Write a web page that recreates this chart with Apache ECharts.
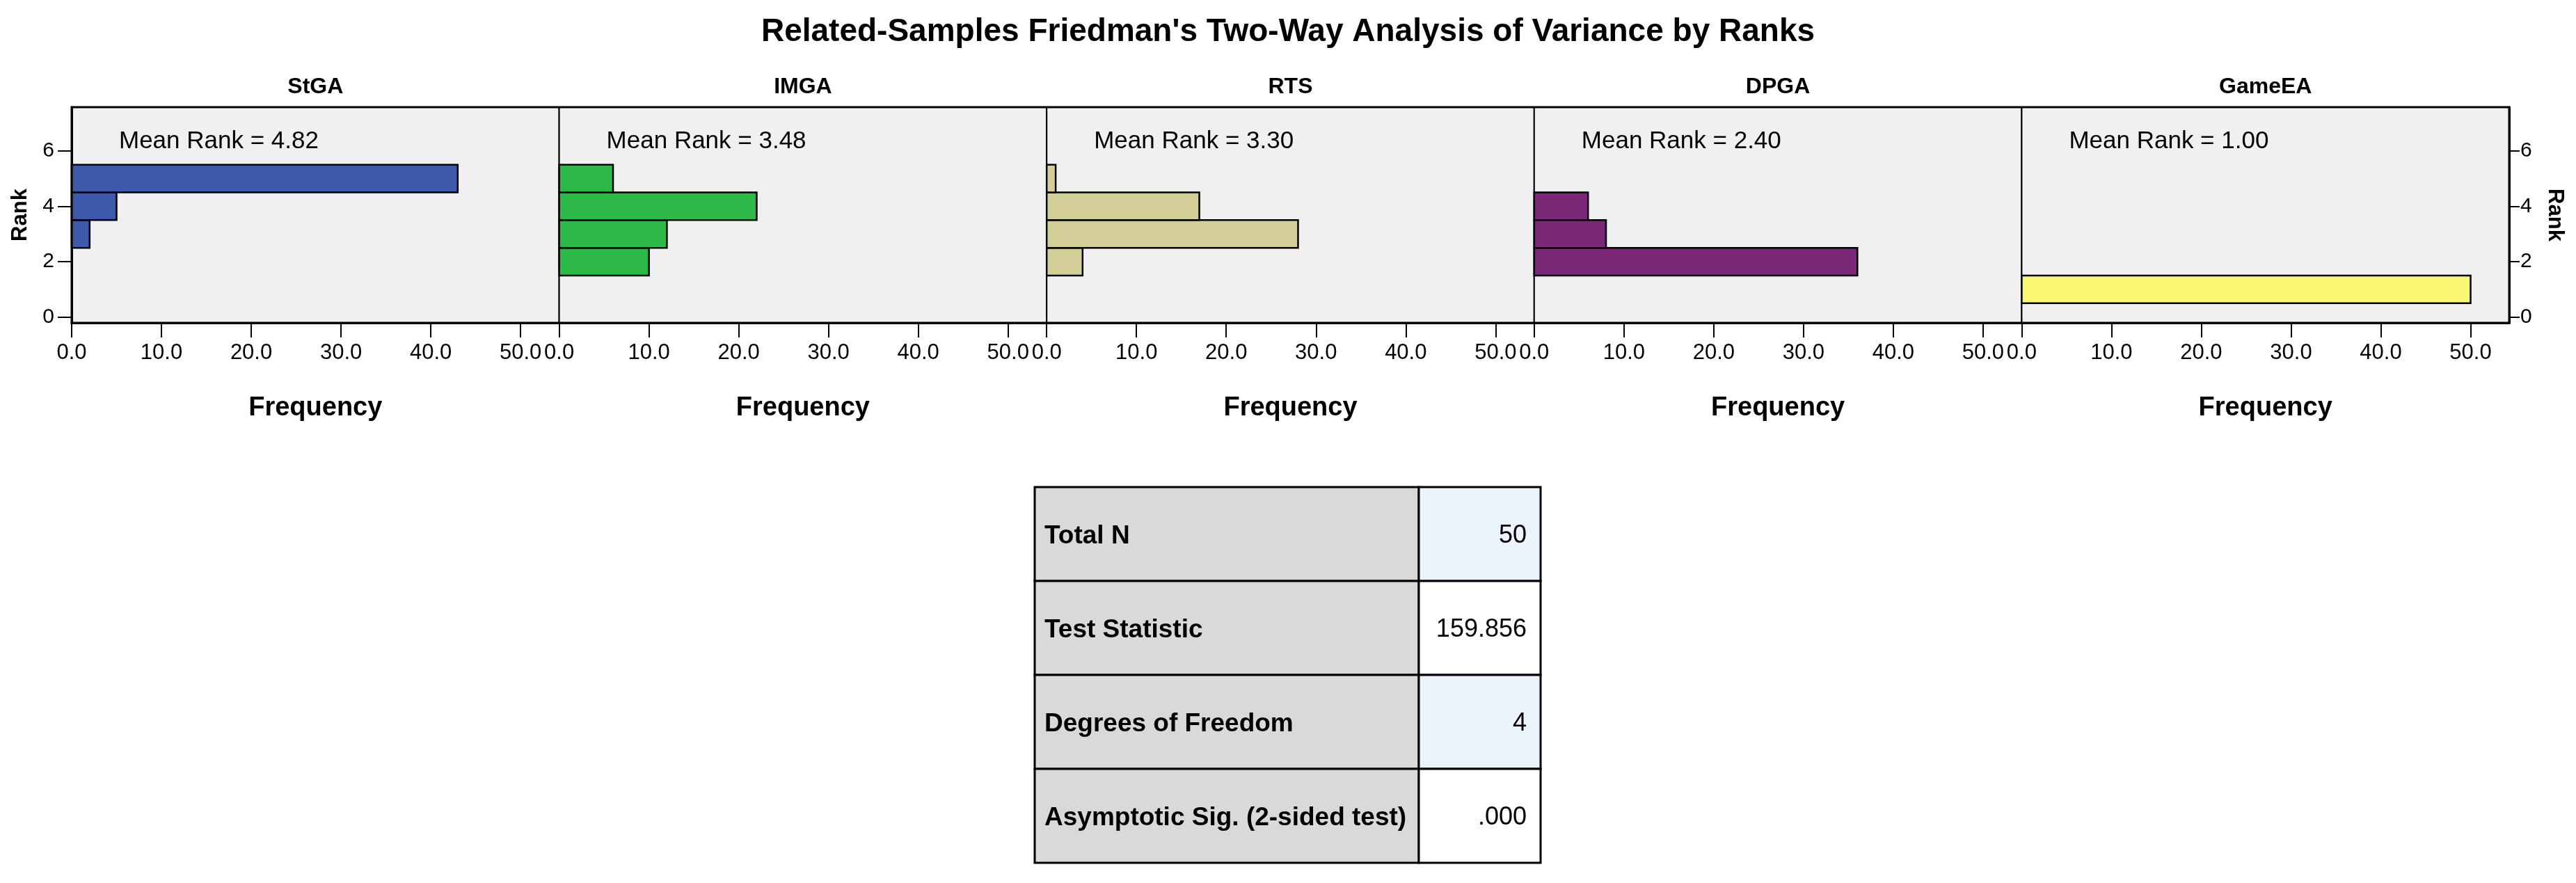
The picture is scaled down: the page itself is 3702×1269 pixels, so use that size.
<!DOCTYPE html>
<html>
<head>
<meta charset="utf-8">
<script src="https://cdn.jsdelivr.net/npm/echarts@6/dist/echarts.min.js"></script>
<style>
  html, body { margin: 0; padding: 0; background: #fff; }
  #main { width: 3702px; height: 1269px; }
</style>
</head>
<body>
<div id="main"></div>
<script>
var myChart = echarts.init(document.getElementById('main'));

// data
var panels = ['StGA', 'IMGA', 'RTS', 'DPGA', 'GameEA'];
var colors = ['#3E58AC', '#2EB848', '#D4CF98', '#7C2878', '#FAF773'];
var ranks = [1, 2, 3, 4, 5];
// frequency per rank 1..5
var stgaFreq = [0, 0, 2, 5, 43];
var imgaFreq = [0, 10, 12, 22, 6];
var rtsFreq = [0, 4, 28, 17, 1];
var dpgaFreq = [0, 36, 8, 6, 0];
var gameeaFreq = [50, 0, 0, 0, 0];
var meanRanks = ['4.82', '3.48', '3.30', '2.40', '1.00'];
var xTicks = [0, 10, 20, 30, 40, 50];
var yTicks = [0, 2, 4, 6];
var tableLabels = ['Total N', 'Test Statistic', 'Degrees of Freedom', 'Asymptotic Sig. (2-sided test)'];
var tableValues = ['50', '159.856', '4', '.000'];

var freqs = [stgaFreq, imgaFreq, rtsFreq, dpgaFreq, gameeaFreq];

var FONT = 'Arial, "Liberation Sans", sans-serif';
var gridLeft = 103, gridW = 700.6, gridTop = 154, gridH = 310;

var grids = [], xAxes = [], yAxes = [], series = [], graphics = [];

panels.forEach(function (name, i) {
    var left = gridLeft + i * gridW;
    grids.push({
        left: left, top: gridTop, width: gridW, height: gridH,
        show: true, backgroundColor: '#F0F0F0', borderColor: '#000', borderWidth: 2,
        outerBoundsMode: 'none'
    });
    xAxes.push({
        type: 'value', gridIndex: i, min: 0, max: 54.3,
        name: 'Frequency', nameLocation: 'middle', nameGap: 104,
        nameTextStyle: { fontFamily: FONT, fontWeight: 'bold', fontSize: 38, color: '#000' },
        splitLine: { show: false },
        axisLine: { show: true, onZero: false, lineStyle: { color: '#000', width: 3 } },
        axisTick: { show: true, length: 21, customValues: xTicks, lineStyle: { color: '#000', width: 2 } },
        axisLabel: {
            customValues: xTicks, margin: 28, fontFamily: FONT, fontSize: 31, color: '#000',
            formatter: function (v) { return v.toFixed(1); }
        }
    });
    var first = i === 0, last = i === panels.length - 1;
    yAxes.push({
        type: 'value', gridIndex: i, min: -0.21, max: 7.58,
        position: last ? 'right' : 'left',
        name: (first || last) ? 'Rank' : '',
        nameLocation: 'middle', nameRotate: last ? -90 : 90, nameGap: last ? 50 : 58,
        nameTextStyle: { fontFamily: FONT, fontWeight: 'bold', fontSize: 31, color: '#000' },
        splitLine: { show: false },
        axisLine: { show: first || last, onZero: false, lineStyle: { color: '#000', width: 3 } },
        axisTick: { show: first || last, length: first ? 20 : 15, customValues: yTicks, lineStyle: { color: '#000', width: 2 } },
        axisLabel: {
            show: first || last, customValues: yTicks, margin: first ? 25 : 16,
            fontFamily: FONT, fontSize: 30, color: '#000'
        }
    });
    var data = ranks.map(function (r, k) { return [freqs[i][k], r]; });
    series.push({
        type: 'custom', xAxisIndex: i, yAxisIndex: i, data: data,
        encode: { x: 0, y: 1 },
        renderItem: function (params, api) {
            var f = api.value(0), r = api.value(1);
            if (!f) return;
            var a = api.coord([0, r + 0.5]);
            var b = api.coord([f, r - 0.5]);
            return {
                type: 'rect',
                shape: { x: a[0], y: a[1], width: b[0] - a[0], height: b[1] - a[1] },
                style: { fill: colors[i], stroke: '#000', lineWidth: 2.5 }
            };
        }
    });
    // panel title
    graphics.push({
        type: 'text', x: left + gridW / 2, y: 125,
        style: { text: name, fontFamily: FONT, fontWeight: 'bold', fontSize: 32, fill: '#000', align: 'center', verticalAlign: 'middle' }
    });
    // mean rank label
    graphics.push({
        type: 'text', x: left + 68, y: 203, z: 10,
        style: { text: 'Mean Rank = ' + meanRanks[i], fontFamily: FONT, fontSize: 35, fill: '#000', align: 'left', verticalAlign: 'middle' }
    });
});

// outer frame of the panel strip
graphics.push({
    type: 'rect', z: 20,
    shape: { x: gridLeft, y: gridTop, width: gridW * panels.length, height: gridH },
    style: { fill: 'none', stroke: '#000', lineWidth: 3 }
});

// summary table
var tLeft = 1487, tTop = 700, labelW = 552, valueW = 175, rowH = 135;
tableLabels.forEach(function (lab, k) {
    var y = tTop + k * rowH;
    graphics.push({
        type: 'rect', shape: { x: tLeft, y: y, width: labelW, height: rowH },
        style: { fill: '#D9D9DB', stroke: '#000', lineWidth: 3 }
    });
    graphics.push({
        type: 'rect', shape: { x: tLeft + labelW, y: y, width: valueW, height: rowH },
        style: { fill: k % 2 === 0 ? '#EBF4FC' : '#FFFFFF', stroke: '#000', lineWidth: 3 }
    });
    graphics.push({
        type: 'text', x: tLeft + 14, y: y + rowH / 2 + 3, z: 5,
        style: { text: lab, fontFamily: FONT, fontWeight: 'bold', fontSize: 37, fill: '#000', align: 'left', verticalAlign: 'middle' }
    });
    graphics.push({
        type: 'text', x: tLeft + labelW + valueW - 20, y: y + rowH / 2 + 3, z: 5,
        style: { text: tableValues[k], fontFamily: FONT, fontSize: 36, fill: '#000', align: 'right', verticalAlign: 'middle' }
    });
});

var option = {
    animation: false,
    title: {
        text: "Related-Samples Friedman's Two-Way Analysis of Variance by Ranks",
        left: 'center', top: 18,
        textStyle: { fontFamily: FONT, fontWeight: 'bold', fontSize: 46, color: '#000' }
    },
    grid: grids,
    xAxis: xAxes,
    yAxis: yAxes,
    series: series,
    graphic: graphics
};

myChart.setOption(option);
</script>
</body>
</html>
